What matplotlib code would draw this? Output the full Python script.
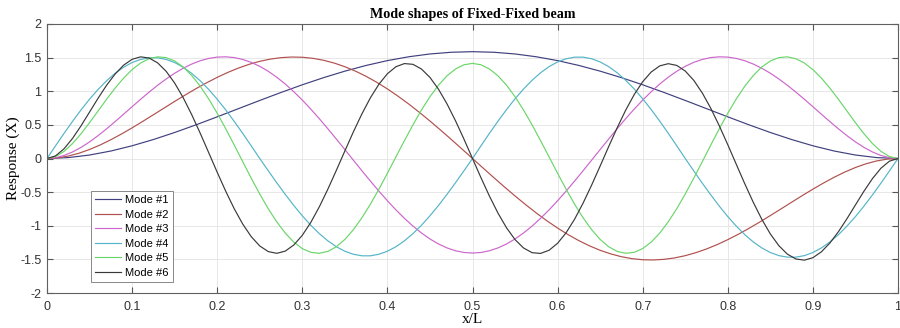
import numpy as np
import matplotlib
matplotlib.use("Agg")
import matplotlib.pyplot as plt

# ---- data ----
labels = ["Mode #1", "Mode #2", "Mode #3", "Mode #4", "Mode #5", "Mode #6"]
colors = ["#40407f", "#b0504e", "#cc66cc", "#55b4c8", "#6ad66a", "#3a3a3a"]

x_m1 = np.linspace(0, 1, 41)
mode1 = [0.0, 0.0134, 0.0516, 0.1112, 0.1891, 0.2820, 0.3867, 0.5002, 0.6194, 0.7413, 0.8631,
         0.9822, 1.0960, 1.2022, 1.2987, 1.3837, 1.4555, 1.5127, 1.5544, 1.5797, 1.5884,
         1.5797, 1.5544, 1.5127, 1.4555, 1.3837, 1.2987, 1.2022, 1.0960, 0.9822, 0.8631,
         0.7413, 0.6194, 0.5002, 0.3867, 0.2820, 0.1891, 0.1112, 0.0516, 0.0134, 0.0]

x_m2 = np.linspace(0, 1, 81)
mode2 = [0.0, 0.0093, 0.0360, 0.0782, 0.1340, 0.2015, 0.2789, 0.3642, 0.4557, 0.5517, 0.6502,
         0.7497, 0.8485, 0.9451, 1.0379, 1.1255, 1.2067, 1.2803, 1.3451, 1.4003, 1.4449,
         1.4782, 1.4997, 1.5089, 1.5055, 1.4894, 1.4605, 1.4189, 1.3650, 1.2990, 1.2215,
         1.1331, 1.0346, 0.9267, 0.8106, 0.6870, 0.5573, 0.4224, 0.2838, 0.1425, 0.0,
         -0.1425, -0.2838, -0.4224, -0.5573, -0.6870, -0.8106, -0.9267, -1.0346, -1.1331, -1.2215,
         -1.2990, -1.3650, -1.4189, -1.4605, -1.4894, -1.5055, -1.5089, -1.4997, -1.4782, -1.4449,
         -1.4003, -1.3451, -1.2803, -1.2067, -1.1255, -1.0379, -0.9451, -0.8485, -0.7497, -0.6502,
         -0.5517, -0.4557, -0.3642, -0.2789, -0.2015, -0.1340, -0.0782, -0.0360, -0.0093, 0.0]

x_m3 = np.linspace(0, 1, 101)
mode3 = [0.0, 0.0116, 0.0448, 0.0969, 0.1651, 0.2469, 0.3398, 0.4409, 0.5480, 0.6585, 0.7701,
         0.8803, 0.9872, 1.0886, 1.1827, 1.2676, 1.3419, 1.4041, 1.4532, 1.4879, 1.5078,
         1.5120, 1.5006, 1.4729, 1.4297, 1.3706, 1.2970, 1.2084, 1.1072, 0.9930, 0.8686,
         0.7343, 0.5919, 0.4429, 0.2895, 0.1331, -0.0244, -0.1812, -0.3353, -0.4848, -0.6283,
         -0.7639, -0.8898, -1.0048, -1.1074, -1.1964, -1.2706, -1.3293, -1.3717, -1.3974, -1.4059,
         -1.3974, -1.3717, -1.3293, -1.2706, -1.1964, -1.1074, -1.0048, -0.8898, -0.7639, -0.6283,
         -0.4848, -0.3353, -0.1812, -0.0244, 0.1331, 0.2895, 0.4429, 0.5919, 0.7343, 0.8686,
         0.9930, 1.1072, 1.2084, 1.2970, 1.3706, 1.4297, 1.4729, 1.5006, 1.5120, 1.5078,
         1.4879, 1.4532, 1.4041, 1.3419, 1.2676, 1.1827, 1.0886, 0.9872, 0.8803, 0.7701,
         0.6585, 0.5480, 0.4409, 0.3398, 0.2469, 0.1651, 0.0969, 0.0448, 0.0116, 0.0]

x_m4 = np.linspace(0, 1, 101)
mode4 = [0.0, 0.188, 0.373, 0.552, 0.723, 0.882, 1.027, 1.156, 1.266, 1.357, 1.427, 1.473,
         1.497, 1.497, 1.473, 1.427, 1.357, 1.266, 1.156, 1.027, 0.882, 0.723, 0.552, 0.373,
         0.188, 0.0,
         -0.182, -0.361, -0.534, -0.699, -0.852, -0.993, -1.117, -1.224, -1.312, -1.379, -1.424,
         -1.447, -1.447, -1.424, -1.379, -1.312, -1.224, -1.117, -0.993, -0.852, -0.699, -0.534,
         -0.361, -0.182, 0.0,
         0.189, 0.376, 0.556, 0.727, 0.888, 1.034, 1.163, 1.275, 1.366, 1.436, 1.483, 1.507,
         1.507, 1.483, 1.436, 1.366, 1.275, 1.163, 1.034, 0.888, 0.727, 0.556, 0.376, 0.189, 0.0,
         -0.184, -0.366, -0.541, -0.708, -0.864, -1.006, -1.133, -1.241, -1.330, -1.398, -1.444,
         -1.467, -1.467, -1.444, -1.398, -1.330, -1.241, -1.133, -1.006, -0.864, -0.708, -0.541,
         -0.366, -0.184, 0.0]

x_m5 = np.linspace(0, 1, 101)
mode5 = [0.0, 0.0281, 0.1057, 0.2223, 0.3679, 0.5325, 0.7063, 0.8803, 1.0459, 1.1953, 1.3218,
         1.4195, 1.4838, 1.5115, 1.5004, 1.4500, 1.3609, 1.2350, 1.0755, 0.8866, 0.6736,
         0.4423, 0.1996, -0.0478, -0.2927, -0.5279, -0.7466, -0.9424, -1.1095, -1.2432, -1.3394,
         -1.3954, -1.4095, -1.3815, -1.3121, -1.2035, -1.0588, -0.8826, -0.6799, -0.4569, -0.2202,
         0.0231, 0.2657, 0.5004, 0.7204, 0.9189, 1.0900, 1.2288, 1.3309, 1.3934, 1.4146,
         1.3934, 1.3309, 1.2288, 1.0900, 0.9189, 0.7204, 0.5004, 0.2657, 0.0231, -0.2202,
         -0.4569, -0.6799, -0.8826, -1.0588, -1.2035, -1.3121, -1.3815, -1.4095, -1.3954, -1.3394,
         -1.2432, -1.1095, -0.9424, -0.7466, -0.5279, -0.2927, -0.0478, 0.1996, 0.4423, 0.6736,
         0.8866, 1.0755, 1.2350, 1.3609, 1.4500, 1.5004, 1.5115, 1.4838, 1.4195, 1.3218,
         1.1953, 1.0459, 0.8803, 0.7063, 0.5325, 0.3679, 0.2223, 0.1057, 0.0281, 0.0]

x_m6 = np.linspace(0, 1, 101)
mode6 = [0.0, 0.0389, 0.1441, 0.2988, 0.4863, 0.6904, 0.8958, 1.0886, 1.2560, 1.3876, 1.4748,
         1.5115, 1.4942, 1.4221, 1.2966, 1.1221, 0.9049, 0.6532, 0.3770, 0.0873, -0.2044,
         -0.4861, -0.7466, -0.9750, -1.1622, -1.3005, -1.3842, -1.4100, -1.3769, -1.2862, -1.1419,
         -0.9500, -0.7184, -0.4569, -0.1763, 0.1117, 0.3952, 0.6623, 0.9019, 1.1040, 1.2604,
         1.3643, 1.4116, 1.4003, 1.3307, 1.2059, 1.0310, 0.8132, 0.5617, 0.2868, 0.0,
         -0.2868, -0.5617, -0.8132, -1.0310, -1.2059, -1.3307, -1.4003, -1.4116, -1.3643, -1.2604,
         -1.1040, -0.9019, -0.6623, -0.3952, -0.1117, 0.1763, 0.4569, 0.7184, 0.9500, 1.1419,
         1.2862, 1.3769, 1.4100, 1.3842, 1.3005, 1.1622, 0.9750, 0.7466, 0.4861, 0.2044,
         -0.0873, -0.3770, -0.6532, -0.9049, -1.1221, -1.2966, -1.4221, -1.4942, -1.5115, -1.4748,
         -1.3876, -1.2560, -1.0886, -0.8958, -0.6904, -0.4863, -0.2988, -0.1441, -0.0389, 0.0]

xticks = [0, 0.1, 0.2, 0.3, 0.4, 0.5, 0.6, 0.7, 0.8, 0.9, 1]
xticklabels = ["0", "0.1", "0.2", "0.3", "0.4", "0.5", "0.6", "0.7", "0.8", "0.9", "1"]
yticks = [-2, -1.5, -1, -0.5, 0, 0.5, 1, 1.5, 2]
yticklabels = ["-2", "-1.5", "-1", "-0.5", "0", "0.5", "1", "1.5", "2"]

# ---- figure ----
fig = plt.figure(figsize=(9, 3.28), dpi=100)
ax = fig.add_axes([47 / 900, 1 - 293 / 328, 851 / 900, 269 / 328])

xs = [x_m1, x_m2, x_m3, x_m4, x_m5, x_m6]
ys = [mode1, mode2, mode3, mode4, mode5, mode6]
for x, y, c, lab in zip(xs, ys, colors, labels):
    ax.plot(x, y, color=c, lw=0.85, label=lab)

ax.set_xlim(0, 1)
ax.set_ylim(-2, 2)
ax.set_xticks(xticks)
ax.set_xticklabels(xticklabels, family="Liberation Sans", fontsize=9)
ax.set_yticks(yticks)
ax.set_yticklabels(yticklabels, family="Liberation Sans", fontsize=9)
ax.tick_params(direction="in", length=4, width=0.8, color="#555555",
               top=True, right=True, labelcolor="#333333")
ax.tick_params(axis="x", pad=6)
ax.tick_params(axis="y", pad=4)
ax.grid(True, color="#e3e3e3", lw=0.6)
ax.set_axisbelow(True)
for s in ax.spines.values():
    s.set_color("#606060")
    s.set_linewidth(0.8)

ax.set_title("Mode shapes of Fixed-Fixed beam", family="Liberation Serif",
             fontweight="bold", fontsize=10.2, pad=4)
ax.set_xlabel("x/L", family="Liberation Serif", fontsize=11, labelpad=0)
ax.set_ylabel("Response (X)", family="Liberation Serif", fontsize=11, labelpad=0)

leg = ax.legend(loc="lower left", bbox_to_anchor=(0.0517, 0.041), borderaxespad=0,
                prop={"family": "Liberation Sans", "size": 8},
                handlelength=2.3, labelspacing=0.4, borderpad=0.4,
                handletextpad=0.35, fancybox=False, framealpha=1, edgecolor="#888888")
leg.get_frame().set_linewidth(0.7)

fig.savefig("out.png", dpi=100)
